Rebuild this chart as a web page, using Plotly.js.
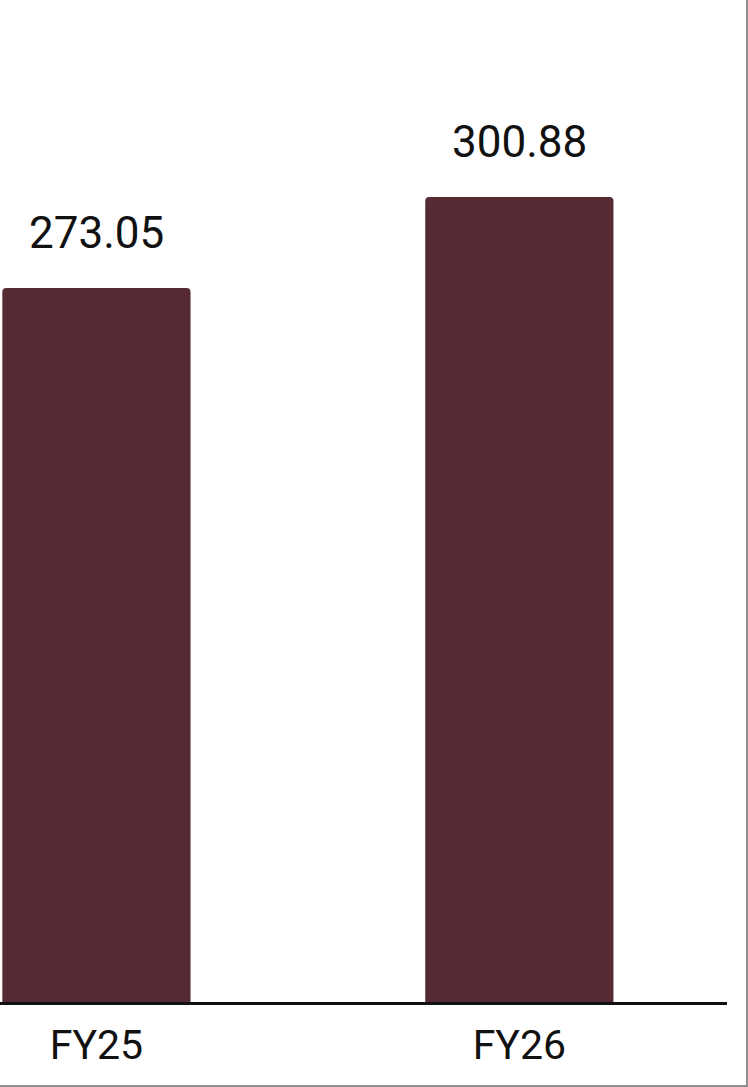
<!DOCTYPE html>
<html>
<head>
<meta charset="utf-8">
<script src="https://cdn.plot.ly/plotly-3.0.1.min.js"></script>
<style>
  html, body { margin: 0; padding: 0; background: #ffffff; }
  #wrap { position: relative; width: 748px; height: 1087px; overflow: hidden; }
  #chart { width: 748px; height: 1087px; }
  #frameR { position: absolute; right: 0; top: 0; width: 2px; height: 1087px; background: #8f8f8f; }
  #frameB { position: absolute; left: 0; bottom: 0; width: 748px; height: 2px; background: #8f8f8f; }
</style>
</head>
<body>
<div id="wrap">
  <div id="chart"></div>
  <div id="frameR"></div>
  <div id="frameB"></div>
</div>
<script>
const categories = ["FY25", "FY26"];
const values = [273.05, 300.88];
const valueLabels = ["273.05", "300.88"];

const barColor = "#552a33";
const fontFamily = "Roboto, 'Liberation Sans', Arial, sans-serif";

const trace = {
  type: "bar",
  x: categories,
  y: values,
  marker: { color: barColor, line: { width: 0 }, cornerradius: 4 },
  hoverinfo: "skip"
};

const annotations = categories.map((c, i) => ({
  x: c,
  y: values[i],
  xref: "x",
  yref: "y",
  text: valueLabels[i],
  showarrow: false,
  yanchor: "bottom",
  xanchor: "center",
  yshift: 27,
  font: { family: fontFamily, size: 44, color: "#111111" }
}));

const layout = {
  width: 748,
  height: 1087,
  margin: { l: 0, r: 21, t: 0, b: 85, pad: 0 },
  paper_bgcolor: "#ffffff",
  plot_bgcolor: "#ffffff",
  showlegend: false,
  bargap: 0.555,
  xaxis: {
    type: "category",
    range: [-0.228, 1.491],
    showline: true,
    linecolor: "#111111",
    linewidth: 3,
    showgrid: false,
    zeroline: false,
    ticks: "",
    ticklabelstandoff: 5,
    tickfont: { family: fontFamily, size: 41, color: "#111111" }
  },
  yaxis: {
    range: [54.7, 361.1],
    visible: false,
    showgrid: false,
    zeroline: false
  },
  annotations: annotations
};

Plotly.newPlot("chart", [trace], layout, { displayModeBar: false, staticPlot: true });
</script>
</body>
</html>
